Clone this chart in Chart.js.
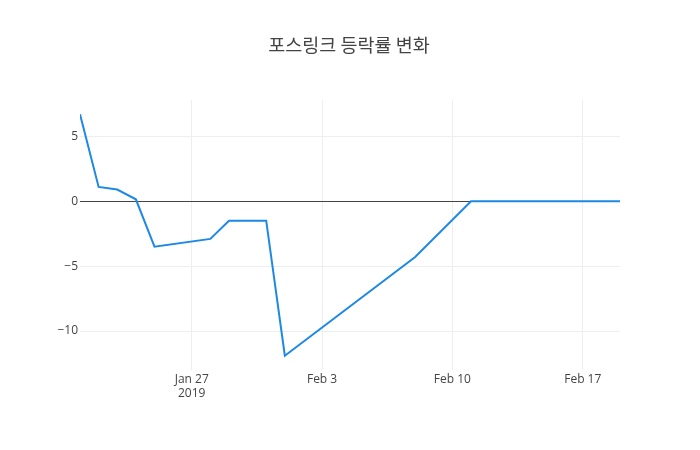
<!DOCTYPE html>
<html>
<head>
<meta charset="utf-8">
<script src="https://cdn.jsdelivr.net/npm/chart.js@4"></script>
<style>
  html, body { margin: 0; padding: 0; background: #fff; }
  #wrap { width: 700px; height: 450px; }
</style>
</head>
<body>
<div id="wrap"><canvas id="rateChart"></canvas></div>
<script>
// trading dates and daily change rate (%)
const dates = [
    '2019-01-21', '2019-01-22', '2019-01-23', '2019-01-24', '2019-01-25',
    '2019-01-28', '2019-01-29', '2019-01-30', '2019-01-31', '2019-02-01',
    '2019-02-08', '2019-02-11', '2019-02-12', '2019-02-13', '2019-02-14',
    '2019-02-15', '2019-02-18', '2019-02-19'
];
const rates = [
    6.7, 1.1, 0.9, 0.15, -3.5,
    -2.9, -1.5, -1.5, -1.5, -11.9,
    -4.3, 0, 0, 0, 0,
    0, 0, 0
];
const tickDates = ['2019-01-27', '2019-02-03', '2019-02-10', '2019-02-17'];
const tickLabels = [['Jan 27', '2019'], 'Feb 3', 'Feb 10', 'Feb 17'];
const titleText = '포스링크 등락률 변화';

const DAY = 86400000;
const toDay = s => Date.parse(s + 'T00:00:00Z') / DAY;

const points = dates.map((d, i) => ({ x: toDay(d), y: rates[i] }));
const tickDays = tickDates.map(toDay);

const titlePlugin = {
    id: 'plotTitle',
    afterDraw(chart) {
        const ctx = chart.ctx;
        ctx.save();
        ctx.font = '18.5px "Noto Sans CJK KR", "Open Sans", sans-serif';
        ctx.fillStyle = '#444';
        ctx.textAlign = 'center';
        ctx.textBaseline = 'middle';
        ctx.fillText(titleText, 349, 45);
        ctx.restore();
    }
};

const tickFont = { family: '"Open Sans", sans-serif', size: 12 };

new Chart(document.getElementById('rateChart'), {
    type: 'line',
    data: {
        datasets: [{
            data: points,
            borderColor: '#1e88e5',
            borderWidth: 2,
            pointRadius: 0,
            fill: false,
            tension: 0
        }]
    },
    options: {
        responsive: true,
        maintainAspectRatio: false,
        animation: false,
        layout: { padding: { top: 100, right: 80, left: 0, bottom: 0 } },
        plugins: {
            legend: { display: false },
            tooltip: { enabled: false }
        },
        scales: {
            x: {
                type: 'linear',
                min: toDay('2019-01-21'),
                max: toDay('2019-02-19'),
                afterBuildTicks: s => { s.ticks = tickDays.map(v => ({ value: v })); },
                afterFit: s => { s.height = 80; },
                ticks: {
                    color: '#444',
                    font: tickFont,
                    padding: 2,
                    maxRotation: 0,
                    autoSkip: false,
                    callback: v => tickLabels[tickDays.indexOf(v)]
                },
                grid: { color: '#eeeeee', drawTicks: false },
                border: { display: false }
            },
            y: {
                min: -13,
                max: 7.8,
                afterBuildTicks: s => { s.ticks = [-10, -5, 0, 5].map(v => ({ value: v })); },
                afterFit: s => { s.width = 80; },
                ticks: {
                    color: '#444',
                    font: tickFont,
                    padding: 2,
                    callback: v => (v < 0 ? '\u2212' + Math.abs(v) : String(v))
                },
                grid: {
                    color: ctx => (ctx.tick && ctx.tick.value === 0 ? '#444' : '#eeeeee'),
                    lineWidth: 1,
                    drawTicks: false
                },
                border: { display: false }
            }
        }
    },
    plugins: [titlePlugin]
});
</script>
</body>
</html>
